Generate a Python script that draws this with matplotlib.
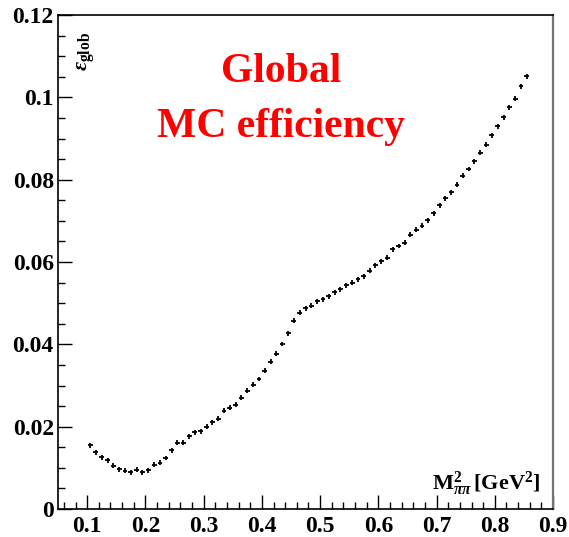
import matplotlib
matplotlib.use("Agg")
import matplotlib.pyplot as plt
import numpy as np
from matplotlib.ticker import MultipleLocator

plt.rcParams['font.family'] = ['Liberation Serif', 'DejaVu Serif']
plt.rcParams['font.weight'] = 'bold'
plt.rcParams['mathtext.fontset'] = 'custom'
plt.rcParams['mathtext.rm'] = 'Liberation Serif:bold'
plt.rcParams['mathtext.it'] = 'Liberation Serif:italic:bold'
plt.rcParams['mathtext.bf'] = 'Liberation Serif:bold'

# bin centres of M^2(pi pi), 0.01 GeV^2 wide
m2_lo = 0.105
m2_step = 0.01

# global MC efficiency per bin
eff = [0.0155, 0.0138, 0.0126, 0.0119, 0.0105, 0.0097, 0.0093, 0.0089, 0.0096, 0.0089,
       0.0094, 0.0108, 0.0113, 0.0124, 0.0143, 0.0161, 0.0161, 0.0177, 0.0186, 0.0189,
       0.0200, 0.0211, 0.0220, 0.0239, 0.0246, 0.0253, 0.0271, 0.0288, 0.0302, 0.0316,
       0.0336, 0.0358, 0.0377, 0.0401, 0.0427, 0.0457, 0.0477, 0.0488, 0.0494, 0.0505,
       0.0510, 0.0517, 0.0527, 0.0534, 0.0544, 0.0550, 0.0558, 0.0566, 0.0579, 0.0592,
       0.0602, 0.0611, 0.0631, 0.0639, 0.0647, 0.0666, 0.0678, 0.0688, 0.0702, 0.0719,
       0.0738, 0.0755, 0.0769, 0.0788, 0.0810, 0.0826, 0.0845, 0.0866, 0.0885, 0.0908,
       0.0930, 0.0952, 0.0976, 0.0997, 0.1027, 0.1051]
eff_err = 0.0006

m2 = m2_lo + m2_step * np.arange(len(eff))

fig = plt.figure(figsize=(5.69, 5.37), dpi=100)
ax = fig.add_axes([0.102, 0.052, 0.870, 0.920])

ax.errorbar(m2, eff, xerr=0.0042, yerr=eff_err, fmt='none',
            ecolor='black', elinewidth=1.3, capsize=0)

ax.set_xlim(0.05, 0.9)
ax.set_ylim(0, 0.12)
ax.xaxis.set_minor_locator(MultipleLocator(0.02))
ax.yaxis.set_minor_locator(MultipleLocator(0.005))
ax.set_xticks([0.1, 0.2, 0.3, 0.4, 0.5, 0.6, 0.7, 0.8, 0.9])
ax.set_xticklabels(['0.1', '0.2', '0.3', '0.4', '0.5', '0.6', '0.7', '0.8', '0.9'])
ax.set_yticks([0, 0.02, 0.04, 0.06, 0.08, 0.1, 0.12])
ax.set_yticklabels(['0', '0.02', '0.04', '0.06', '0.08', '0.1', '0.12'])

ax.tick_params(which='major', direction='in', length=10, width=1.0,
               labelsize=17, pad=3)
ax.tick_params(which='minor', direction='in', length=5, width=1.0)
ax.tick_params(axis='x', pad=5)
for lab in ax.get_xticklabels() + ax.get_yticklabels():
    lab.set_fontweight('bold')

for side in ['left', 'bottom', 'top']:
    ax.spines[side].set_linewidth(1.2)
    ax.spines[side].set_color('black')
ax.spines['right'].set_linewidth(1.6)
ax.spines['right'].set_color('0.45')

ax.text(0.036, 0.966, r'$\varepsilon_{\mathrm{glob}}$', transform=ax.transAxes,
        rotation=90, ha='left', va='top', fontsize=16)
ax.text(0.974, 0.022, r'$\mathrm{M}^{2}_{\pi\pi}\,[\mathrm{GeV}^{2}]$', transform=ax.transAxes,
        ha='right', va='bottom', fontsize=16)

ax.text(0.45, 0.885, 'Global', transform=ax.transAxes, ha='center', va='center',
        color='red', fontsize=30, fontweight='bold')
ax.text(0.45, 0.773, 'MC efficiency', transform=ax.transAxes, ha='center', va='center',
        color='red', fontsize=30, fontweight='bold')

fig.savefig('out.png', dpi=100)
